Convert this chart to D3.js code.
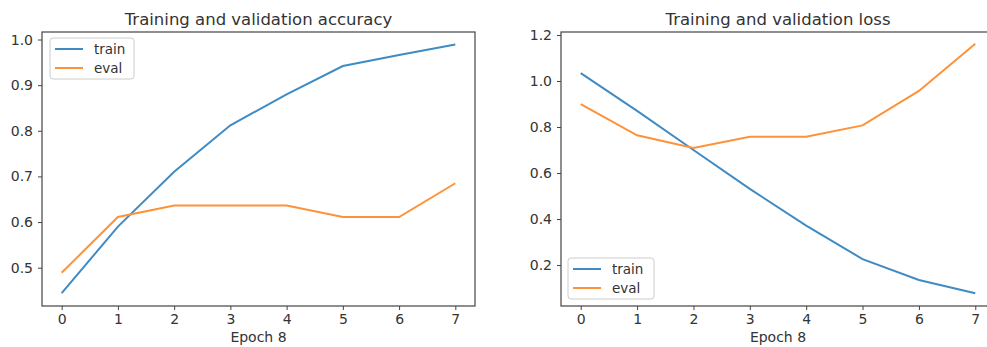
<!DOCTYPE html>
<html>
<head>
<meta charset="utf-8">
<script src="https://cdn.jsdelivr.net/npm/d3@7"></script>
<style>
  body { margin: 0; background: #fff; }
  svg text { font-family: "DejaVu Sans", sans-serif; fill: #333; }
</style>
</head>
<body>
<svg id="chart" width="987" height="347"></svg>
<script>
// data
const epochs = [0, 1, 2, 3, 4, 5, 6, 7]
const accTrain = [0.444, 0.59, 0.71, 0.812, 0.88, 0.942, 0.966, 0.989]
const accEval = [0.489, 0.611, 0.636, 0.636, 0.636, 0.611, 0.611, 0.685]
const lossTrain = [1.034, 0.87, 0.70, 0.531, 0.371, 0.226, 0.135, 0.077]
const lossEval = [0.90, 0.764, 0.709, 0.758, 0.758, 0.807, 0.957, 1.162]
const accTicks = [0.5, 0.6, 0.7, 0.8, 0.9, 1.0]
const lossTicks = [0.2, 0.4, 0.6, 0.8, 1.0, 1.2]

const BLUE = "#3f8bc4"
const ORANGE = "#ff9238"

const svg = d3.select("#chart")

function drawPanel(opts) {
    const x = d3.scaleLinear().domain([-0.35, 7.35]).range([opts.left, opts.right])
    const y = d3.scaleLinear().domain(opts.yDomain).range([306, 32])
    const g = svg.append("g")

    // frame
    g.append("rect")
        .attr("x", opts.left).attr("y", 32)
        .attr("width", opts.right - opts.left).attr("height", 274)
        .attr("fill", "none").attr("stroke", "#444").attr("stroke-width", 1.2)

    const xAxis = g.append("g")
        .attr("transform", "translate(0,306)")
        .call(d3.axisBottom(x).tickValues(epochs).tickSize(4).tickPadding(4).tickFormat(d3.format("d")))
    const yAxis = g.append("g")
        .attr("transform", `translate(${opts.left},0)`)
        .call(d3.axisLeft(y).tickValues(opts.ticks).tickSize(4).tickPadding(5).tickFormat(d3.format(".1f")))
    for (const a of [xAxis, yAxis]) {
        a.select(".domain").remove()
        a.selectAll("line").attr("stroke", "#444")
        a.selectAll("text").attr("font-size", "14px").style("fill", "#333")
    }

    g.append("text")
        .attr("x", (opts.left + opts.titleRight) / 2).attr("y", 25)
        .attr("text-anchor", "middle").attr("font-size", "16.5px")
        .text(opts.title)
    g.append("text")
        .attr("x", x(3.5)).attr("y", 342)
        .attr("text-anchor", "middle").attr("font-size", "14px")
        .text("Epoch 8")

    const line = d3.line().x((d, i) => x(epochs[i])).y(d => y(d))
    g.append("path").attr("d", line(opts.train))
        .attr("fill", "none").attr("stroke", BLUE).attr("stroke-width", 2)
    g.append("path").attr("d", line(opts.eval))
        .attr("fill", "none").attr("stroke", ORANGE).attr("stroke-width", 2)

    // legend
    const lg = g.append("g").attr("transform", `translate(${opts.legend[0]},${opts.legend[1]})`)
    lg.append("rect").attr("width", opts.legend[2]).attr("height", 41).attr("rx", 3)
        .attr("fill", "#fff").attr("fill-opacity", 0.8).attr("stroke", "#ccc")
    const items = [["train", BLUE], ["eval", ORANGE]]
    items.forEach((it, i) => {
        const yy = 11 + i * 19
        lg.append("line").attr("x1", 5).attr("x2", 33).attr("y1", yy).attr("y2", yy)
            .attr("stroke", it[1]).attr("stroke-width", 2)
        lg.append("text").attr("x", 44).attr("y", yy + 5)
            .attr("font-size", "13.5px").text(it[0])
    })
}

drawPanel({
    left: 42, right: 475, titleRight: 475,
    yDomain: [0.416, 1.0165], ticks: accTicks,
    train: accTrain, eval: accEval,
    title: "Training and validation accuracy",
    legend: [50, 38, 84]
})

drawPanel({
    left: 561, right: 995, titleRight: 995,
    yDomain: [0.022, 1.213], ticks: lossTicks,
    train: lossTrain, eval: lossEval,
    title: "Training and validation loss",
    legend: [568, 258, 86]
})
</script>
</body>
</html>
